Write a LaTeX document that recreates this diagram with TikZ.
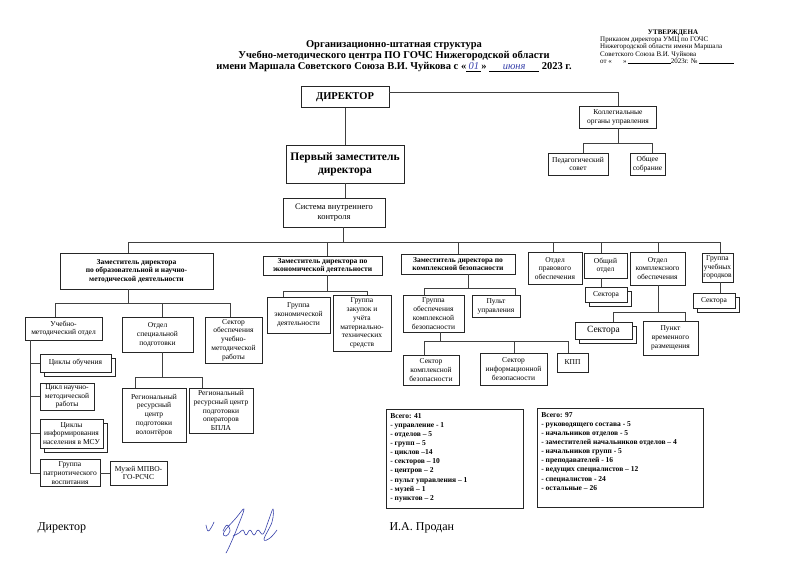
\documentclass[tikz,border=0pt]{standalone}
\usepackage{fontspec}
\setmainfont{Liberation Serif}
\usetikzlibrary{shadows}
\definecolor{ink}{RGB}{55,65,170}
\newcommand{\handfill}[2]{\underline{\makebox[#2]{\textcolor{ink}{\itshape\mdseries #1}}}}

\tikzset{
  unitbox/.style={draw=black!85, line width=0.7pt, fill=white, align=center, inner sep=1pt},
  thinbox/.style={unitbox, font=\fontsize{7.5}{8.8}\selectfont},
  headbox/.style={unitbox, font=\fontsize{7.5}{8.3}\selectfont\bfseries},
  stacked/.style={copy shadow={shadow xshift=4pt, shadow yshift=-4pt}},
  wire/.style={black!75, line width=0.6pt},
  sig/.style={ink, line width=0.6pt, line cap=round, line join=round},
}

\begin{document}
\begin{tikzpicture}[x=1pt, y=-1pt]
    \useasboundingbox (0,0) rectangle (800,566);
    % heading
    \node[align=center, font=\fontsize{10.5}{11.3}\selectfont\bfseries] (title) at (394,56)
        {Организационно-штатная структура\\Учебно-методического центра ПО ГОЧС Нижегородской области\\
         имени Маршала Советского Союза В.И. Чуйкова с «\handfill{01}{15pt}» \handfill{июня}{50pt} 2023 г.};
    \node[font=\fontsize{7}{7.4}\selectfont\bfseries] (appr) at (673,33) {УТВЕРЖДЕНА};
    \node[anchor=north west, align=left, inner sep=0pt, font=\fontsize{7}{7.4}\selectfont] (order) at (600,36.5)
        {Приказом директора УМЦ по ГОЧС\\Нижегородской области имени Маршала\\Советского Союза В.И. Чуйкова\\
         от «\hspace{1.6em}»\,\rule{43pt}{0.4pt}2023г. №\,\rule{35pt}{0.4pt}};

    % top level
    \node[unitbox, minimum width=88, minimum height=21, font=\fontsize{10.5}{12}\selectfont\bfseries] (dir) at (345,97) {ДИРЕКТОР};
    \node[thinbox, minimum width=77, minimum height=22] (kol) at (618,117) {Коллегиальные\\органы управления};
    \node[thinbox, minimum width=60, minimum height=22] (ped) at (578,164) {Педагогический\\совет};
    \node[thinbox, minimum width=35, minimum height=22] (obs) at (647.5,164) {Общее\\собрание};
    \node[unitbox, minimum width=118, minimum height=38, font=\fontsize{11.5}{12.7}\selectfont\bfseries] (fd) at (345,164) {Первый заместитель\\директора};
    \node[unitbox, minimum width=102, minimum height=29, font=\fontsize{8.5}{9.5}\selectfont] (svk) at (334,212.5) {Система внутреннего\\контроля};

    % deputies and departments
    \node[headbox, minimum width=153, minimum height=36] (obr) at (136.5,271) {Заместитель директора\\по образовательной и научно-\\методической деятельности};
    \node[headbox, minimum width=119, minimum height=19] (eco) at (322.5,265.5) {Заместитель директора по\\экономической деятельности};
    \node[headbox, minimum width=114, minimum height=20] (kb) at (458,264) {Заместитель директора по\\комплексной безопасности};
    \node[thinbox, minimum width=54, minimum height=32] (prav) at (555,268.5) {Отдел\\правового\\обеспечения};
    \node[thinbox, minimum width=43, minimum height=25] (obsh) at (605.5,265.5) {Общий\\отдел};
    \node[thinbox, minimum width=55, minimum height=33] (kompl) at (657.5,268.5) {Отдел\\комплексного\\обеспечения};
    \node[thinbox, minimum width=31, minimum height=29] (gor) at (717.5,267.5) {Группа\\учебных\\городков};

    % sectors on the right
    \node[thinbox, stacked, minimum width=42, minimum height=15] (sec1) at (606,294.5) {Сектора};
    \node[thinbox, stacked, minimum width=42, minimum height=15] (sec2) at (714,300.5) {Сектора};
    \node[thinbox, stacked, minimum width=57, minimum height=17, font=\fontsize{9.5}{10}\selectfont] (sec3) at (603.5,330.5) {Сектора};
    \node[thinbox, minimum width=55, minimum height=34] (pvr) at (670.5,338) {Пункт\\временного\\размещения};

    % security
    \node[thinbox, minimum width=61, minimum height=37] (gokb) at (433.5,313.5) {Группа\\обеспечения\\комплексной\\безопасности};
    \node[thinbox, minimum width=48, minimum height=22] (pu) at (496,306) {Пульт\\управления};
    \node[thinbox, minimum width=56, minimum height=30] (skb) at (431,370) {Сектор\\комплексной\\безопасности};
    \node[thinbox, minimum width=67, minimum height=32] (sib) at (513.5,369) {Сектор\\информационной\\безопасности};
    \node[thinbox, minimum width=31, minimum height=19] (kpp) at (572.5,362.5) {КПП};

    % economics
    \node[thinbox, minimum width=63, minimum height=36] (ged) at (298.5,315) {Группа\\экономической\\деятельности};
    \node[thinbox, minimum width=58, minimum height=56] (gz) at (362,323) {Группа\\закупок и\\учёта\\материально-\\технических\\средств};

    % education
    \node[thinbox, minimum width=77, minimum height=23] (umo) at (63.5,328.5) {Учебно-\\методический отдел};
    \node[thinbox, minimum width=71, minimum height=35] (osp) at (157.5,334.5) {Отдел\\специальной\\подготовки};
    \node[thinbox, minimum width=57, minimum height=46] (sou) at (233.5,340) {Сектор\\обеспечения\\учебно-\\методической\\работы};
    \node[thinbox, stacked, minimum width=71, minimum height=18] (co) at (75.5,363) {Циклы обучения};
    \node[thinbox, minimum width=54, minimum height=27] (cnm) at (67,396.5) {Цикл научно-\\методической\\работы};
    \node[thinbox, stacked, minimum width=63, minimum height=29] (cim) at (71.5,433.5) {Циклы\\информирования\\населения в МСУ};
    \node[thinbox, minimum width=60, minimum height=27] (gpv) at (70,473) {Группа\\патриотического\\воспитания};
    \node[thinbox, minimum width=57, minimum height=24] (muz) at (138.5,473) {Музей МПВО-\\ГО-РСЧС};
    \node[thinbox, minimum width=64, minimum height=54] (rrc1) at (154,415) {Региональный\\ресурсный\\центр\\подготовки\\волонтёров};
    \node[thinbox, minimum width=64, minimum height=45] (rrc2) at (221,410.5) {Региональный\\ресурсный центр\\подготовки\\операторов\\БПЛА};

    % totals
    \node[draw=black!85, line width=0.7pt, anchor=north west, inner sep=4pt, font=\fontsize{7.5}{9.1}\selectfont\bfseries] (tot1) at (386,409)
        {\begin{minipage}[t][91pt][t]{129pt}Всего: 41\\- управление - 1\\- отделов – 5\\- групп – 5\\- циклов –14\\- секторов – 10\\- центров – 2\\- пульт управления – 1\\- музей – 1\\- пунктов – 2\end{minipage}};
    \node[draw=black!85, line width=0.7pt, anchor=north west, inner sep=4pt, font=\fontsize{7.5}{9.1}\selectfont\bfseries] (tot2) at (537,408)
        {\begin{minipage}[t][91pt][t]{158pt}Всего: 97\\- руководящего состава - 5\\- начальников отделов - 5\\- заместителей начальников отделов – 4\\- начальников групп - 5\\- преподавателей - 16\\- ведущих специалистов – 12\\- специалистов - 24\\- остальные – 26\end{minipage}};

    % signature line
    \node[anchor=west, font=\fontsize{12}{14}\selectfont] (dsig) at (34,528) {Директор};
    \node[anchor=west, font=\fontsize{12}{14}\selectfont] (fio) at (386,528) {И.А. Продан};
    \draw[sig] plot[smooth, tension=0.7] coordinates {(206,525) (208,531) (211,528) (214,522)};
    \draw[sig] plot[smooth, tension=0.7] coordinates {(223,531) (227,525) (230,531) (226,536) (224,532) (236,518) (244,509) (238,526) (230,545) (226,553)};
    \draw[sig] plot[smooth, tension=0.7] coordinates {(233,536) (239,533) (243,530) (246,535) (250,530) (254,535) (258,530) (263,534) (268,522) (273,509) (272,522) (264,539) (270,538) (277,530)};

    % coordinates of the buses
    \coordinate (kt) at (618,92);
    \coordinate (pt) at (583,143);
    \coordinate (ot) at (652,143);
    \coordinate (tsvk) at (343,242);
    \coordinate (tobr) at (128,242);
    \coordinate (teco) at (327,242);
    \coordinate (tkb) at (458,242);
    \coordinate (tprav) at (553,242);
    \coordinate (tobsh) at (601,242);
    \coordinate (tkom) at (658,242);
    \coordinate (tgor) at (720,242);

    % links
    \draw[wire] (dir) -- (fd);
    \draw[wire] (fd.south) -- (fd.south |- svk.north);
    \draw[wire] (dir.east |- kt) -- (kt) -- (kol.north);
    \draw[wire] (kol.south) -- (kol.south |- pt);
    \draw[wire] (pt) -- (ot);
    \draw[wire] (pt) -- (pt |- ped.north);
    \draw[wire] (ot) -- (ot |- obs.north);
    \draw[wire] (tsvk |- svk.south) -- (tsvk);
    \draw[wire] (tobr) -- (tgor);
    \foreach \t/\n in {tobr/obr, teco/eco, tkb/kb, tprav/prav, tobsh/obsh, tkom/kompl, tgor/gor}
        \draw[wire] (\t) -- (\t |- \n.north);
    \draw[wire] (tobsh |- obsh.south) -- (tobsh |- sec1.north);
    \draw[wire] (tgor |- gor.south) -- (tgor |- sec2.north);

    % education branch
    \coordinate (o1) at (55,303);
    \coordinate (o2) at (162,303);
    \coordinate (o3) at (230,303);
    \draw[wire] (tobr |- obr.south) -- (tobr |- o1);
    \draw[wire] (o1) -- (o3);
    \draw[wire] (o1) -- (o1 |- umo.north);
    \draw[wire] (o2) -- (o2 |- osp.north);
    \draw[wire] (o3) -- (o3 |- sou.north);
    \coordinate (sp) at (30,473);
    \draw[wire] (sp |- umo.south) -- (sp);
    \foreach \n in {co, cnm, cim, gpv}
        \draw[wire] (sp |- \n.west) -- (\n.west);
    \draw[wire] (gpv) -- (muz);
    \coordinate (r0) at (162,377);
    \coordinate (r1) at (135,377);
    \coordinate (r2) at (202,377);
    \draw[wire] (r0 |- osp.south) -- (r0);
    \draw[wire] (r1) -- (r2);
    \draw[wire] (r1) -- (r1 |- rrc1.north);
    \draw[wire] (r2) -- (r2 |- rrc2.north);

    % economics branch
    \coordinate (e1) at (283,291);
    \coordinate (e2) at (367,291);
    \draw[wire] (teco |- eco.south) -- (teco |- e1);
    \draw[wire] (e1) -- (e2);
    \draw[wire] (e1) -- (e1 |- ged.north);
    \draw[wire] (e2) -- (e2 |- gz.north);

    % security branch
    \coordinate (k0) at (468,288);
    \coordinate (k1) at (424,288);
    \coordinate (k2) at (515,288);
    \draw[wire] (k0 |- kb.south) -- (k0);
    \draw[wire] (k1) -- (k2);
    \draw[wire] (k1) -- (k1 |- gokb.north);
    \draw[wire] (k2) -- (k2 |- pu.north);
    \coordinate (g0) at (440,341);
    \coordinate (g1) at (424,341);
    \coordinate (g2) at (514,341);
    \coordinate (g3) at (568,341);
    \draw[wire] (g0 |- gokb.south) -- (g0);
    \draw[wire] (g1) -- (g3);
    \foreach \t/\n in {g1/skb, g2/sib, g3/kpp}
        \draw[wire] (\t) -- (\t |- \n.north);

    % support branch
    \coordinate (m1) at (613,312);
    \coordinate (m2) at (685,312);
    \draw[wire] (tkom |- kompl.south) -- (tkom |- m1);
    \draw[wire] (m1) -- (m2);
    \draw[wire] (m1) -- (m1 |- sec3.north);
    \draw[wire] (m2) -- (m2 |- pvr.north);
\end{tikzpicture}
\end{document}
